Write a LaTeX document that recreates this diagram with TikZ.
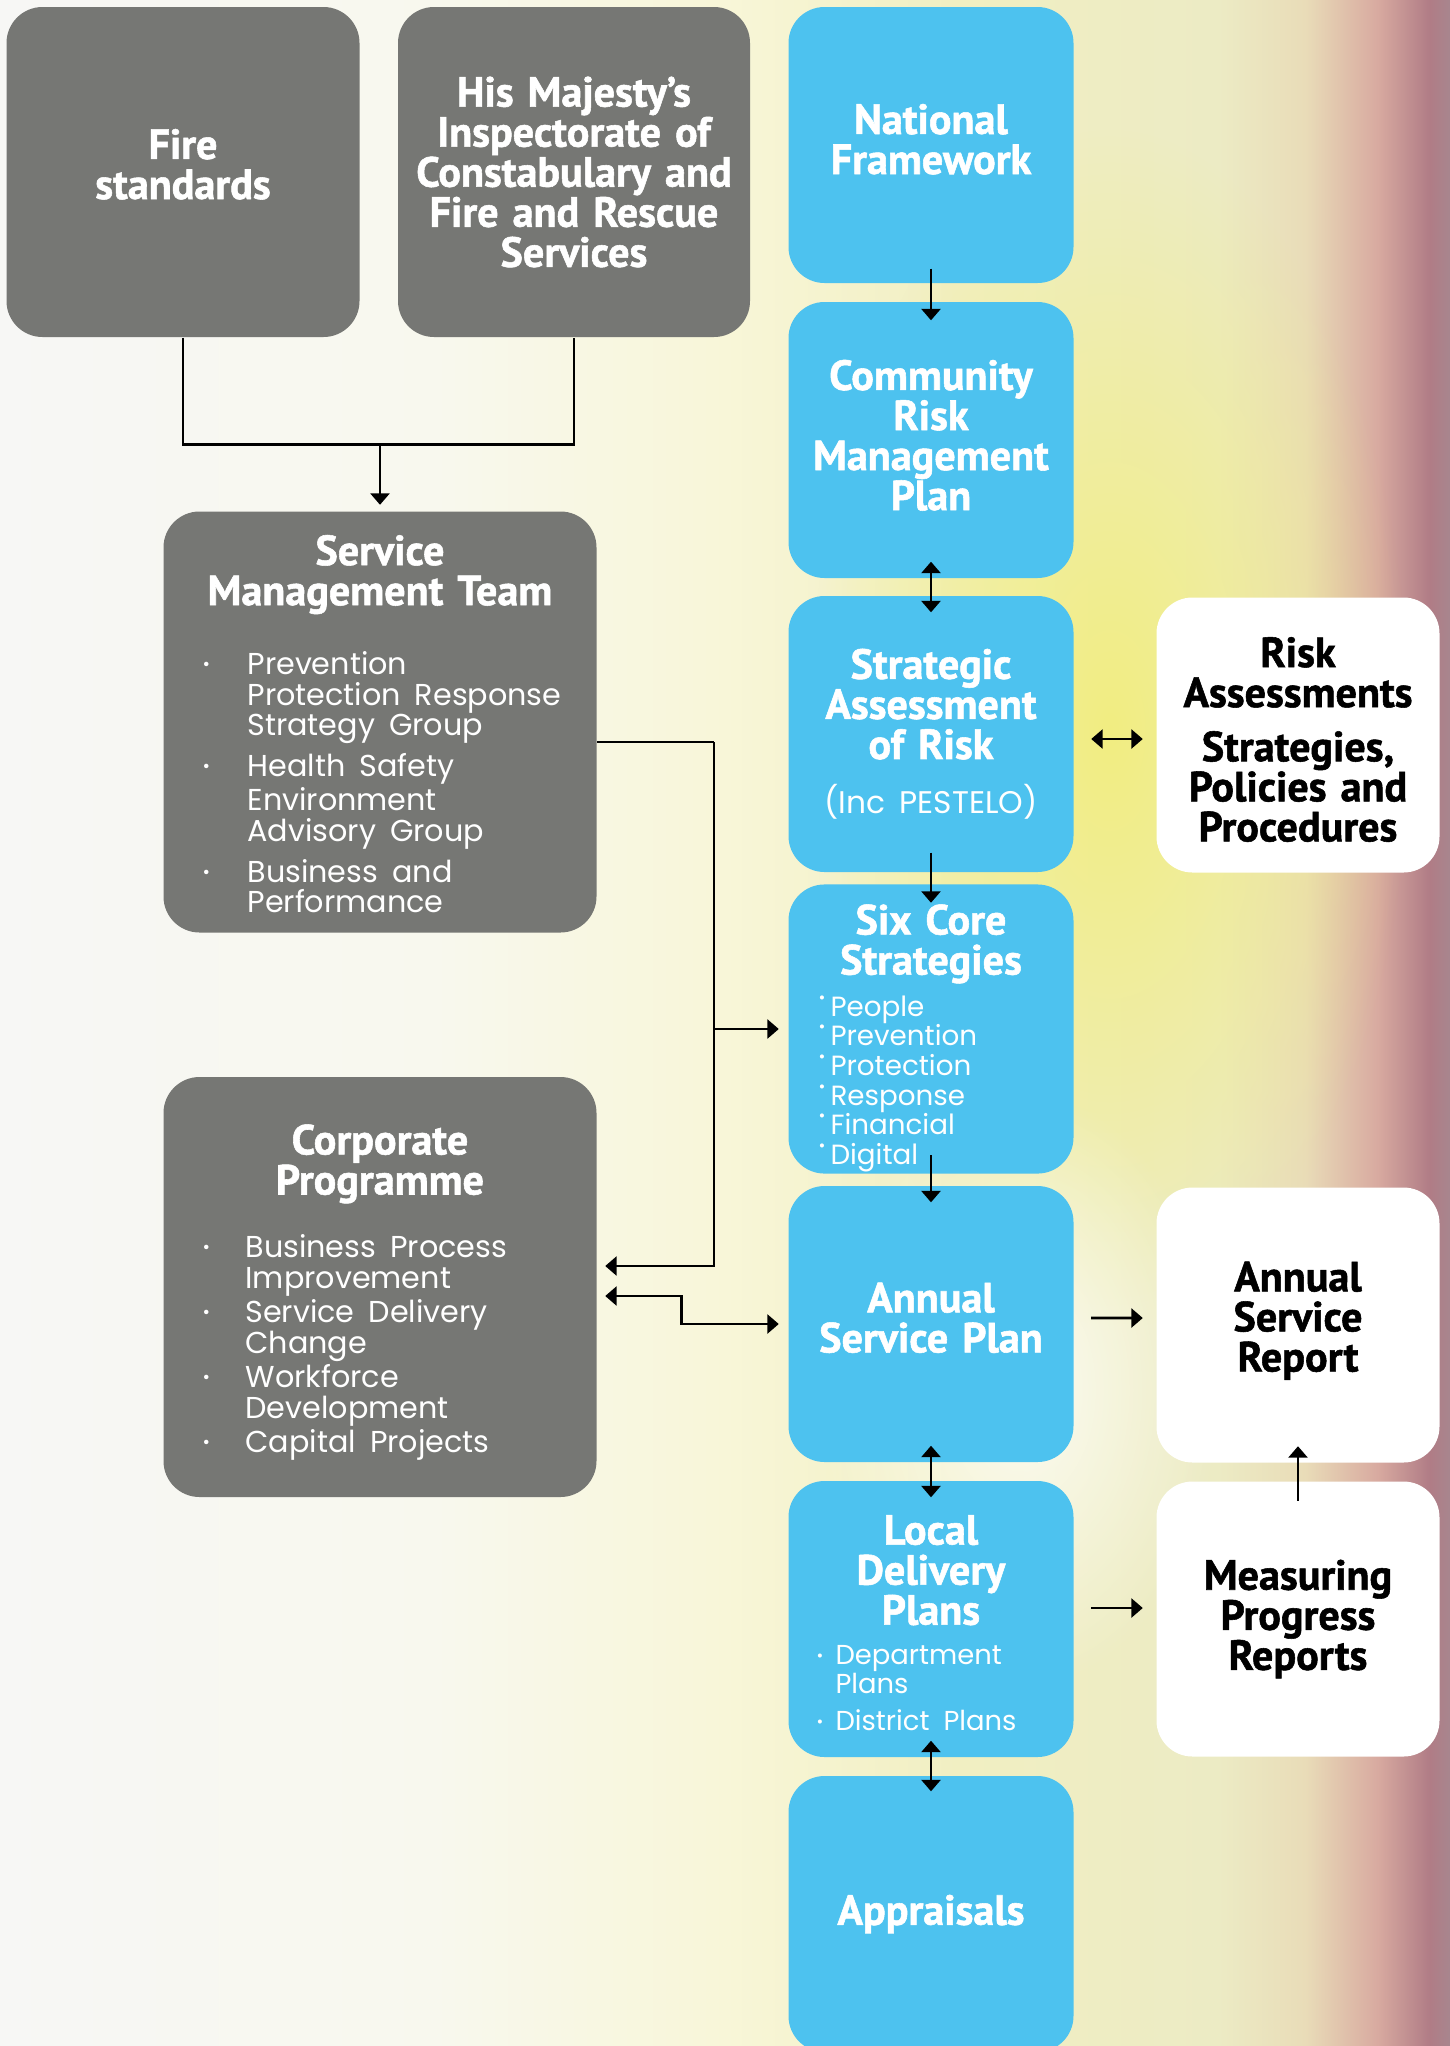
\documentclass[tikz,border=0pt]{standalone}
\usepackage{fontspec}
\usepackage{tikz}
\usetikzlibrary{arrows.meta, positioning, fadings}
\newfontfamily\headfont{PT Sans}[BoldFeatures={FakeBold=1.3}]
\newfontfamily\bodyfont{Poppins}
\definecolor{boxgrey}{HTML}{767774}
\definecolor{skyblue}{HTML}{4DC2EF}
\definecolor{bgA}{HTML}{F7F7F5}
\definecolor{bgB}{HTML}{F8F8EE}
\definecolor{bgC}{HTML}{F8F6D8}
\definecolor{bgD}{HTML}{F1EFC2}
\definecolor{bgE}{HTML}{ECEBC4}
\definecolor{bgF}{HTML}{E9DCB8}
\definecolor{bgG}{HTML}{D8AAA0}
\definecolor{bgH}{HTML}{B07C86}
\definecolor{bgI}{HTML}{A8868E}
\definecolor{glowyellow}{HTML}{F2EE7A}
\pgfdeclarehorizontalshading{bgshade}{100bp}{color(0bp)=(bgA); color(25bp)=(bgA); color(40bp)=(bgB); color(50bp)=(bgC); color(58bp)=(bgD); color(67bp)=(bgE); color(70bp)=(bgF); color(72.5bp)=(bgG); color(74.3bp)=(bgH); color(75bp)=(bgI); color(100bp)=(bgI)}
\tikzfading[name=softglow, inner color=transparent!0, outer color=transparent!100]
\newcommand{\titlefont}{\headfont\bfseries\fontsize{12}{11.4}\selectfont}
\newcommand{\listfont}{\bodyfont\mdseries\fontsize{8.6}{8.7}\selectfont}
\newcommand{\bul}{\raisebox{0.25ex}{\scalebox{0.6}{\textbullet}}}
\newcommand{\upbul}{\raisebox{0.85ex}{\scalebox{0.6}{\textbullet}}}
\newcommand{\sink}[1]{\rule[-#1]{0pt}{#1}}

\begin{document}
\begin{tikzpicture}[>={Triangle[length=0.115cm, width=0.19cm]},
    box/.style={rounded corners=0.36cm, inner sep=0pt, align=center, font=\titlefont},
    greybox/.style={box, fill=boxgrey, text=white},
    bluebox/.style={box, fill=skyblue, text=white, text width=2.85cm, minimum width=2.85cm, minimum height=2.76cm},
    whitebox/.style={box, fill=white, text=black, text width=2.83cm, minimum height=2.75cm},
    wire/.style={line width=0.8pt},
    arr/.style={->, line width=0.8pt},
    dblarr/.style={<->, line width=0.8pt}]
    \useasboundingbox (0,0) rectangle (14.5,-20.46);
    \clip (0,0) rectangle (14.5,-20.46);
    % background
    \shade[shading=bgshade] (0,0) rectangle (14.5,-20.46);
    \fill[glowyellow, path fading=softglow, fill opacity=0.9] (11.1,-7.3) ellipse (3cm and 6cm);
    \fill[white, path fading=softglow, fill opacity=0.8] (10.2,-13.9) ellipse (2cm and 3cm);

    % left column
    \node[greybox, text width=3.53cm, minimum height=3.30cm] (fire) at (1.83,-1.72) {Fire\\standards\sink{0.16cm}};
    \node[greybox, text width=3.52cm, minimum height=3.30cm] (hmi) at (5.74,-1.72) {His Majesty’s\\Inspectorate of\\Constabulary and\\Fire and Rescue\\Services};

    \node[greybox, text width=3.55cm, minimum width=4.33cm, minimum height=4.21cm] (smt) at (3.80,-7.22) {\rule{0pt}{0.43cm}Service\\Management Team\\[8.4pt]
        {\listfont\makebox[\linewidth][l]{\begin{tabular}[t]{@{}p{0.45cm}@{}p{3.6cm}@{}}
            \bul & Prevention\newline Protection Response\newline Strategy Group\\[2.4pt]
            \bul & Health Safety\newline Environment\newline Advisory Group\\[2.4pt]
            \bul & Business and\newline Performance
        \end{tabular}}}};

    \node[greybox, text width=3.55cm, minimum width=4.33cm, minimum height=4.20cm] (corp) at (3.80,-12.87) {\rule{0pt}{0.42cm}Corporate\\Programme\\[6.6pt]
        {\listfont\makebox[\linewidth][l]{\begin{tabular}[t]{@{}p{0.43cm}@{}p{3.6cm}@{}}
            \bul & Business Process\newline Improvement\\[0.6pt]
            \bul & Service Delivery\newline Change\\[0.6pt]
            \bul & Workforce\newline Development\\[0.6pt]
            \bul & Capital Projects
        \end{tabular}}}};

    % blue column
    \node[bluebox] (nf) at (9.31,-1.45) {National\\Framework\sink{0.12cm}};
    \node[bluebox] (crmp) at (9.31,-4.40) {Community\\Risk\\Management\\Plan\sink{0.10cm}};
    \node[bluebox] (sar) at (9.31,-7.34) {Strategic\\Assessment\\of Risk\\[4.1pt]{\bodyfont\mdseries\fontsize{8.9}{10}\selectfont (Inc PESTELO)}};
    \node[bluebox, text width=2.25cm] (six) at (9.31,-10.29) {\rule{0pt}{0.50cm}Six Core\\Strategies\\[0.4pt]
        {\bodyfont\mdseries\fontsize{7.9}{8.3}\selectfont\begin{tabular}[t]{@{}p{0.12cm}@{}p{2.13cm}@{}}
            \upbul & People\\
            \upbul & Prevention\\
            \upbul & Protection\\
            \upbul & Response\\
            \upbul & Financial\\
            \upbul & Digital
        \end{tabular}}};
    \node[bluebox] (asp) at (9.31,-13.24) {Annual\\Service Plan\sink{0.13cm}};
    \node[bluebox, text width=2.29cm] (ldp) at (9.31,-16.19) {\rule{0pt}{0.46cm}Local\\Delivery\\Plans\\
        {\bodyfont\mdseries\fontsize{7.8}{8.2}\selectfont\begin{tabular}[t]{@{}p{0.19cm}@{}p{2.1cm}@{}}
            \bul & Department\newline Plans\\[2.2pt]
            \bul & District Plans
        \end{tabular}}};
    \node[bluebox] (appr) at (9.31,-19.14) {Appraisals};

    % white column
    \node[whitebox] (risk) at (12.98,-7.35) {\rule{0pt}{0.39cm}Risk\\Assessments\\[4pt]Strategies,\\Policies and\\Procedures};
    \node[whitebox] (asr) at (12.98,-13.25) {Annual\\Service\\Report\sink{0.17cm}};
    \node[whitebox] (mpr) at (12.98,-16.19) {Measuring\\Progress\\Reports};

    % connectors
    \draw[wire] (fire.south) -- ++(0,-1.07) coordinate (fj) -| (hmi.south);
    \draw[arr] (smt.north |- fj) -- ([yshift=0.06cm]smt.north);

    \coordinate (bus) at (7.14,-7.42);
    \draw[wire] ([yshift=-0.20cm]smt.east) -- (bus);
    \draw[arr] (bus) |- ([xshift=0.08cm,yshift=0.21cm]corp.east);
    \draw[arr] (bus |- six.west) -- ([xshift=-0.09cm]six.west);
    \draw[dblarr] ([xshift=0.08cm,yshift=-0.09cm]corp.east) -- ++(0.76,0) |- ([xshift=-0.09cm]asp.west);

    \draw[arr] ([yshift=0.15cm]nf.south) -- ([yshift=-0.19cm]crmp.north);
    \draw[dblarr] ([yshift=0.17cm]crmp.south) -- ([yshift=-0.17cm]sar.north);
    \draw[arr] ([yshift=0.20cm]sar.south) -- ([yshift=-0.19cm]six.north);
    \draw[arr] ([yshift=0.19cm]six.south) -- ([yshift=-0.17cm]asp.north);
    \draw[dblarr] ([yshift=0.17cm]asp.south) -- ([yshift=-0.17cm]ldp.north);
    \draw[dblarr] ([yshift=0.17cm]ldp.south) -- ([yshift=-0.16cm]appr.north);

    \draw[dblarr] ([xshift=0.17cm,yshift=-0.05cm]sar.east) -- ([xshift=-0.13cm,yshift=-0.04cm]risk.west);
    \draw[arr] ([xshift=0.17cm,yshift=0.06cm]asp.east) -- ([xshift=-0.13cm,yshift=0.07cm]asr.west);
    \draw[arr] ([xshift=0.17cm,yshift=0.11cm]ldp.east) -- ([xshift=-0.13cm,yshift=0.11cm]mpr.west);
    \draw[arr] ([yshift=-0.20cm]mpr.north) -- ([yshift=0.17cm]asr.south);
\end{tikzpicture}
\end{document}
